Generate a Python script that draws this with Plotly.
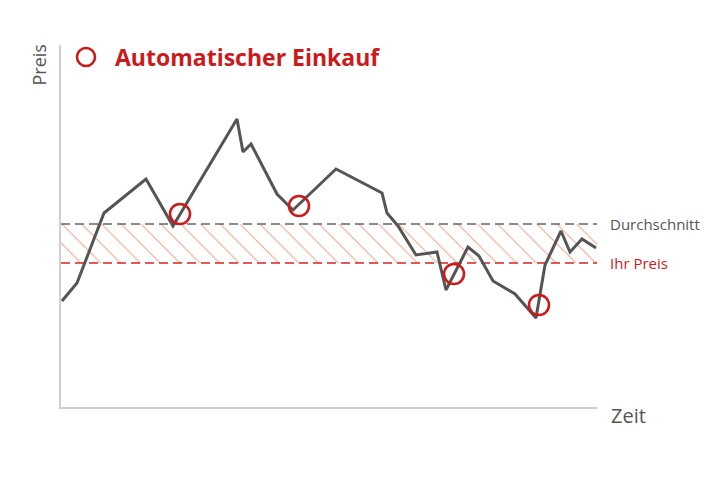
import plotly.graph_objects as go

# Data (time in arbitrary units, price in arbitrary units)
zeit = [1, 16, 43, 85, 112, 176, 182, 190, 216, 232, 275, 321, 326, 337, 355, 376, 385, 407, 418, 432, 454, 475, 484, 500, 509, 521, 535]
preis = [106, 124, 194, 228, 181, 288, 255, 263, 213, 197, 238, 214, 194, 181, 152, 155, 117, 160, 151, 126, 113, 89, 142, 176, 155, 168, 159]

kauf_zeit = [119, 238, 393, 478]
kauf_preis = [193, 201, 133, 102]

durchschnitt = 183
ihr_preis = 144

x_min, x_max = 0, 536
y_min, y_max = 0, 362

RED = "#cc1a1a"
GRAY = "#555555"
AXIS = "#cfcfcf"
FONT = "Open Sans"

fig = go.Figure()

# hatched band between average and your price
fig.add_trace(go.Scatter(
    x=[x_min, x_max], y=[ihr_preis, ihr_preis], mode="lines",
    line=dict(width=0), hoverinfo="skip", showlegend=False))
fig.add_trace(go.Scatter(
    x=[x_min, x_max], y=[durchschnitt, durchschnitt], mode="lines",
    line=dict(width=0), fill="tonexty", fillcolor="rgba(255,255,255,0)",
    fillpattern=dict(shape="\\", fgcolor="#d9552a", bgcolor="rgba(255,255,255,0)",
                     size=14, solidity=0.08),
    hoverinfo="skip", showlegend=False))

# dashed reference lines
fig.add_trace(go.Scatter(
    x=[x_min, x_max], y=[durchschnitt, durchschnitt], mode="lines",
    line=dict(color="#666666", width=1.5, dash="9px,5px"), showlegend=False))
fig.add_trace(go.Scatter(
    x=[x_min, x_max], y=[ihr_preis, ihr_preis], mode="lines",
    line=dict(color="#dd2222", width=1.5, dash="9px,5px"), showlegend=False))

# price line
fig.add_trace(go.Scatter(
    x=zeit, y=preis, mode="lines",
    line=dict(color=GRAY, width=3), showlegend=False))

# automatic purchases
fig.add_trace(go.Scatter(
    x=kauf_zeit, y=kauf_preis, mode="markers",
    marker=dict(symbol="circle-open", size=20, color=RED, line=dict(width=2.6, color=RED)),
    showlegend=False))

# legend item
fig.add_trace(go.Scatter(
    x=[(86 - 61)], y=[407 - 57], mode="markers",
    marker=dict(symbol="circle-open", size=18, color=RED, line=dict(width=2.6, color=RED)),
    showlegend=False, cliponaxis=False))
fig.add_annotation(x=113 - 61, y=407 - 57, xref="x", yref="y", xanchor="left", yanchor="middle",
                   text="<b>Automatischer Einkauf</b>", showarrow=False,
                   font=dict(family=FONT, size=23, color=RED))

# right-side labels
fig.add_annotation(x=1, y=durchschnitt, xref="paper", yref="y", xanchor="left", xshift=11,
                   text="Durchschnitt", showarrow=False,
                   font=dict(family=FONT, size=15, color="#555555"))
fig.add_annotation(x=1, y=ihr_preis, xref="paper", yref="y", xanchor="left", xshift=11,
                   text="Ihr Preis", showarrow=False,
                   font=dict(family=FONT, size=15, color=RED))

# axis titles
fig.add_annotation(x=1, y=0, xref="paper", yref="paper", xanchor="left", yanchor="middle",
                   xshift=12, yshift=-8, text="Zeit", showarrow=False,
                   font=dict(family=FONT, size=20, color="#555555"))
fig.add_annotation(x=0, y=1, xref="paper", yref="paper", xanchor="center", yanchor="top",
                   xshift=-23, yshift=2, textangle=-90, text="Preis", showarrow=False,
                   font=dict(family=FONT, size=18, color="#555555"))

fig.update_xaxes(range=[x_min, x_max], showgrid=False, zeroline=False, showticklabels=False,
                 ticks="", showline=True, linecolor=AXIS, linewidth=2)
fig.update_yaxes(range=[y_min, y_max], showgrid=False, zeroline=False, showticklabels=False,
                 ticks="", showline=True, linecolor=AXIS, linewidth=2)

fig.update_layout(
    width=719, height=495,
    margin=dict(l=53, r=130, t=37, b=96),
    plot_bgcolor="white", paper_bgcolor="white",
    font=dict(family=FONT),
)

fig.write_html("out.html")
